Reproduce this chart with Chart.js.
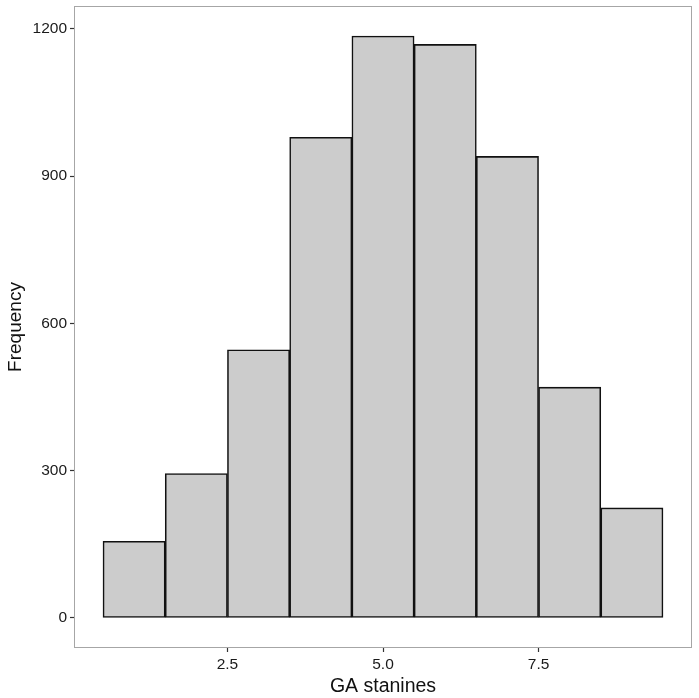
<!DOCTYPE html>
<html>
<head>
<meta charset="utf-8">
<script src="https://cdn.jsdelivr.net/npm/chart.js@4.4.1/dist/chart.umd.min.js"></script>
<style>
  html, body { margin: 0; padding: 0; background: #fff; }
  #wrap { width: 699px; height: 698px; }
</style>
</head>
<body>
<div id="wrap"><canvas id="histChart"></canvas></div>
<script>
// Data
const stanines = [1, 2, 3, 4, 5, 6, 7, 8, 9];
const counts = [156, 294, 546, 979, 1185, 1168, 940, 470, 224];
const xTicks = [2.5, 5.0, 7.5];
const yTicks = [0, 300, 600, 900, 1200];

Chart.defaults.font.family = "'Liberation Sans', Arial, sans-serif";
Chart.defaults.color = '#1a1a1a';

// grey panel border all round
const panelBorder = {
    id: 'panelBorder',
    afterDraw(chart) {
        const a = chart.chartArea, ctx = chart.ctx;
        ctx.save();
        ctx.strokeStyle = '#a6a6a6';
        ctx.lineWidth = 1;
        ctx.strokeRect(Math.round(a.left) - 0.5, Math.round(a.top) - 0.5,
            Math.round(a.right - a.left) + 1, Math.round(a.bottom - a.top) + 1);
        ctx.restore();
    }
};

const ctx = document.getElementById('histChart').getContext('2d');
new Chart(ctx, {
    type: 'bar',
    data: {
        datasets: [{
            data: stanines.map((s, i) => ({ x: s, y: counts[i] })),
            backgroundColor: '#cccccc',
            borderColor: '#111',
            borderWidth: 1.6,
            borderSkipped: false,
            barPercentage: 1,
            categoryPercentage: 1
        }]
    },
    options: {
        responsive: true,
        maintainAspectRatio: false,
        animation: false,
        layout: { padding: { top: 7, right: 8, left: 4, bottom: 0 } },
        plugins: { legend: { display: false }, tooltip: { enabled: false } },
        scales: {
            x: {
                type: 'linear',
                offset: false,
                min: 0.05, max: 9.95,
                afterBuildTicks: s => { s.ticks = xTicks.map(v => ({ value: v })); },
                afterFit: s => { s.height = 51; s.paddingLeft = 0; s.paddingRight = 0; },
                grid: { offset: false, drawOnChartArea: false, tickLength: 5, tickColor: '#333', tickWidth: 1.2 },
                border: { display: false },
                ticks: { font: { size: 15.5 }, padding: 3, callback: v => v.toFixed(1), maxRotation: 0 },
                title: { display: true, text: 'GA stanines', font: { size: 19.5 }, color: '#111', padding: { top: 2, bottom: 0 } }
            },
            y: {
                min: -59.25, max: 1244.25,
                afterBuildTicks: s => { s.ticks = yTicks.map(v => ({ value: v })); },
                afterFit: s => { s.width = 71; s.paddingTop = 0; s.paddingBottom = 0; },
                grid: { drawOnChartArea: false, tickLength: 5, tickColor: '#333', tickWidth: 1.2 },
                border: { display: false },
                ticks: { font: { size: 15.5 }, padding: 3, callback: v => String(v) },
                title: { display: true, text: 'Frequency', font: { size: 19 }, color: '#111', padding: { top: 0, bottom: 2 } }
            }
        }
    },
    plugins: [panelBorder]
});
</script>
</body>
</html>
